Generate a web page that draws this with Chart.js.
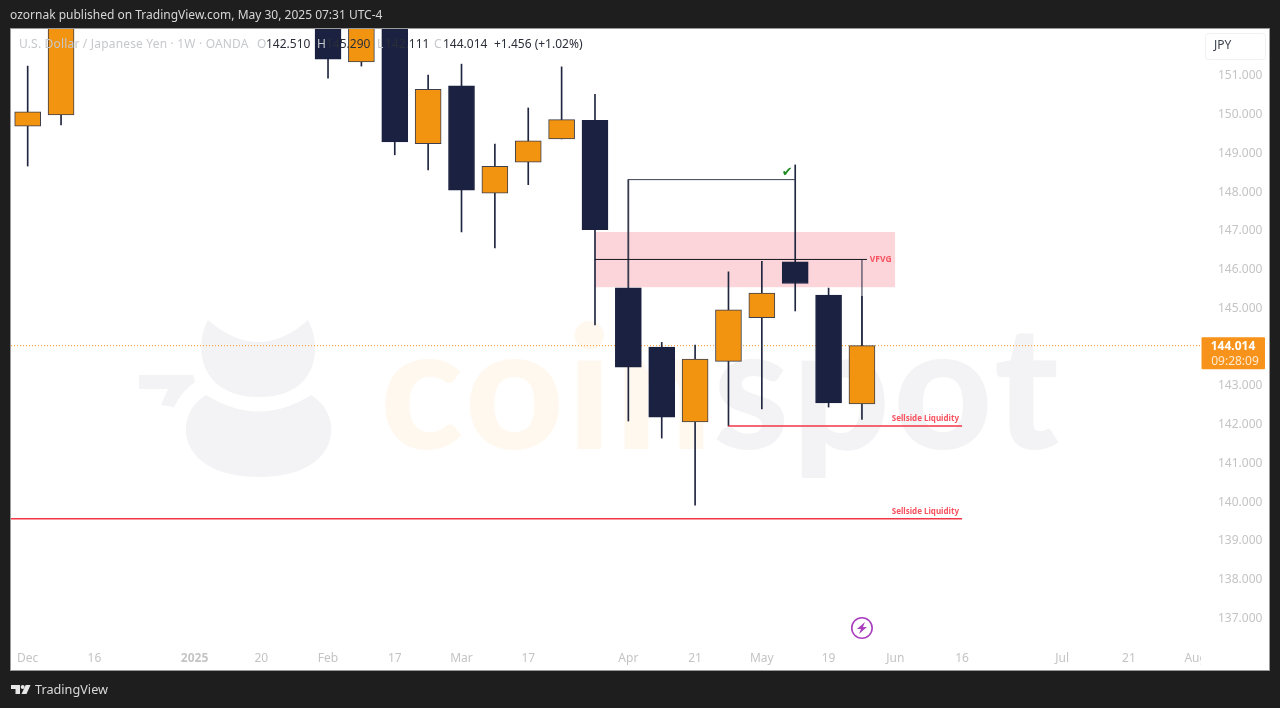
<!DOCTYPE html>
<html>
<head>
<meta charset="utf-8">
<style>html,body{margin:0;padding:0;background:#1e1e1e;overflow:hidden}canvas{display:block}</style>
<script src="https://cdn.jsdelivr.net/npm/chart.js@4"></script>
</head>
<body>
<div style="width:1280px;height:708px"><canvas id="c" width="1280" height="708"></canvas></div>
<script>
// Weekly candles, one entry per week from Dec 2 2024. null = week lies off the top of the picture.
const weeks  = ["Dec 2","Dec 9","Dec 16","Dec 23","Dec 30","Jan 6","Jan 13","Jan 20","Jan 27","Feb 3","Feb 10","Feb 17","Feb 24","Mar 3","Mar 10","Mar 17","Mar 24","Mar 31","Apr 7","Apr 14","Apr 21","Apr 28","May 5","May 12","May 19","May 26"];
const opens  = [149.68,149.97,null,null,null,null,null,null,null,155.00,151.34,152.30,149.23,150.72,147.95,148.75,149.35,149.83,145.51,143.98,142.05,143.61,144.74,146.18,145.32,142.51];
const highs  = [151.23,153.85,null,null,null,null,null,null,null,155.20,154.80,152.40,151.00,151.28,149.22,150.15,151.21,150.50,148.30,144.10,144.03,145.92,146.19,148.68,145.50,145.29];
const lows   = [148.65,149.71,null,null,null,null,null,null,null,150.92,151.23,148.94,148.55,146.95,146.54,148.17,149.35,144.55,142.07,141.63,139.90,141.94,142.38,144.91,142.43,142.111];
const closes = [150.05,153.65,null,null,null,null,null,null,null,151.41,152.30,149.27,150.63,148.03,148.64,149.30,149.85,147.01,143.46,142.17,143.67,144.94,145.37,145.62,142.54,144.014];

const priceTicks = [137,138,139,140,141,142,143,144,145,146,147,148,149,150,151];
const timeTickIdx    = [0,2,5,7,9,11,13,15,18,20,22,24,26,28,31,33,35];
const timeTickLabels = ["Dec","16","2025","20","Feb","17","Mar","17","Apr","21","May","19","Jun","16","Jul","21","Aug"];

const lastPrice = 144.014;
const zoneTop = 146.95, zoneBottom = 145.52, zoneFrom = 17, zoneTo = 26;
const vfvgLevel = 146.24, vfvgFrom = 17, vfvgTo = 25, vfvgEnd = 25.15;
const sweepLevel = 148.30, sweepFrom = 18, sweepTo = 23;
const liqLevelA = 141.94, liqFromA = 21, liqLevelB = 139.55, liqTo = 28;

const yMin = 136.29, yMax = 152.187, xMin = -0.50, xMax = 35.16;
const NAVY = "#1b2140", ORANGE = "#f39410", RED = "#f23645";
const FONT = '"Noto Sans"';

const bodyData = [], wickData = [], bodyColors = [], bodyBorders = [];
weeks.forEach((w,i)=>{
  if(opens[i]===null) return;
  wickData.push({x:i,y:[lows[i],highs[i]]});
  bodyData.push({x:i,y:[opens[i],closes[i]]});
  const up = closes[i]>=opens[i];
  bodyColors.push(up?ORANGE:NAVY);
  bodyBorders.push(up?"#3c3f4d":NAVY);
});
const seg = (pts,color,width,order,extra)=>Object.assign({type:"line",data:pts.map(p=>({x:p[0],y:p[1]})),borderColor:color,borderWidth:width,pointRadius:0,order:order,tension:0,fill:false},extra||{});

const panel = {
  id:"panel",
  beforeDraw(ch){
    const g=ch.ctx; g.save();
    g.fillStyle="#1e1e1e"; g.fillRect(0,0,1280,708);
    g.fillStyle="#ffffff"; g.fillRect(11,29,1258,641);
    g.strokeStyle="#9a9a9a"; g.lineWidth=1; g.strokeRect(10.5,28.5,1259,642);
    // watermark
    g.fillStyle="#f3f3f5";
    g.beginPath();g.moveTo(208,320);g.quadraticCurveTo(259,364,308,320);g.bezierCurveTo(322,345,320,397,259,397);g.bezierCurveTo(198,397,194,345,208,320);g.fill();
    g.beginPath();g.moveTo(206,395);g.quadraticCurveTo(259,428,311,395);g.bezierCurveTo(345,415,342,477,259,477);g.bezierCurveTo(176,477,172,415,206,395);g.fill();
    g.beginPath();g.moveTo(139,375);g.lineTo(193,375);g.lineTo(195,382);g.quadraticCurveTo(181,392,174,407);g.lineTo(161,405);g.lineTo(168,389);g.lineTo(139,389);g.closePath();g.fill();
    g.textBaseline="alphabetic"; g.textAlign="left";
    g.font='900 172px Lato'; g.letterSpacing='3px';
    g.fillStyle="#fff8ef"; g.fillText("coin",380,449);
    g.fillStyle="#f3f3f5"; g.fillText("spot",713,449);
    g.letterSpacing='0px';
    g.restore();
  },
  afterDatasetsDraw(ch){
    const g=ch.ctx, X=ch.scales.x, Y=ch.scales.y; g.save();
    // legend line
    g.textBaseline="middle"; g.textAlign="left"; g.font='12px '+FONT;
    const put=(t,x,c)=>{g.fillStyle=c;g.fillText(t,x,45);};
    const GR="#c6c8cc", DK="#2a2e39";
    g.letterSpacing='0.18px';
    put("U.S. Dollar / Japanese Yen · 1W · OANDA",19,GR);
    g.letterSpacing='0px';
    put("O",257,GR);put("142.510",266,DK);
    put("H",317,GR);put("145.290",326,DK);
    put("L",377,GR);put("142.111",385,DK);
    put("C",434,GR);put("144.014",443,DK);
    put("+1.456 (+1.02%)",494,DK);
    // line-tool labels
    g.textAlign="center"; g.font='bold 8px '+FONT; g.fillStyle="#f7525f";
    g.fillText("Sellside Liquidity",X.getPixelForValue(26.9),Y.getPixelForValue(liqLevelA)-7);
    g.fillText("Sellside Liquidity",X.getPixelForValue(26.9),Y.getPixelForValue(liqLevelB)-7);
    g.font='bold 8.5px '+FONT;
    g.fillText("VFVG",X.getPixelForValue(25.56),Y.getPixelForValue(vfvgLevel));
    // check mark
    g.font='13px "DejaVu Sans"'; g.fillStyle="#1b8a20";
    g.fillText("✔",X.getPixelForValue(22.76),Y.getPixelForValue(sweepLevel)-7);
    // lightning marker
    const lx=X.getPixelForValue(25), ly=628;
    g.strokeStyle="#a93fbf"; g.lineWidth=1.6; g.beginPath(); g.arc(lx,ly,10.2,0,Math.PI*2); g.stroke();
    g.fillStyle="#a93fbf"; g.beginPath();
    g.moveTo(lx+3,ly-6);g.lineTo(lx-5,ly+1);g.lineTo(lx-1,ly+1);g.lineTo(lx-3,ly+6);g.lineTo(lx+5,ly-1);g.lineTo(lx+1,ly-1);g.closePath();g.fill();
    g.restore();
  },
  afterDraw(ch){
    const g=ch.ctx, Y=ch.scales.y; g.save();
    // clip of the last time label at the price axis
    g.fillStyle="#fff"; g.fillRect(1201,648,9,18);
    // JPY button
    g.strokeStyle="#f0f1f3"; g.lineWidth=1; g.beginPath(); g.roundRect(1205.5,33.5,60,26,3); g.stroke();
    g.fillStyle="#3a3f4a"; g.font='12px '+FONT; g.textAlign="left"; g.textBaseline="middle"; g.fillText("JPY",1214,46);
    // last-price tag
    const py=Y.getPixelForValue(lastPrice);
    g.fillStyle="#f7931a"; g.beginPath(); g.roundRect(1201.5,py-8.5,63.5,32,1); g.fill();
    g.textAlign="center"; g.fillStyle="#fff"; g.font='bold 12px '+FONT; g.fillText("144.014",1233,py+1);
    g.fillStyle="#ffe9cf"; g.font='12px '+FONT; g.fillText("09:28:09",1235,py+16);
    // header + footer
    g.textAlign="left"; g.fillStyle="#d6d6d6"; g.font='12px '+FONT; g.fillText("ozornak published on TradingView.com, May 30, 2025 07:31 UTC-4",10,16);
    g.fillStyle="#e6e6e6"; g.beginPath();
    g.moveTo(11,685);g.lineTo(20,685);g.lineTo(20,694);g.lineTo(15.5,694);g.lineTo(15.5,689);g.lineTo(11,689);g.closePath();g.fill();
    g.beginPath();g.arc(22.7,687,2,0,Math.PI*2);g.fill();
    g.beginPath();g.moveTo(25.7,685);g.lineTo(30.5,685);g.lineTo(26.5,694);g.lineTo(21.5,694);g.closePath();g.fill();
    g.font='12.7px '+FONT; g.fillStyle="#d8d8d8"; g.fillText("TradingView",35,690);
    g.restore();
  }
};

new Chart(document.getElementById("c"),{
  type:"bar",
  data:{datasets:[
    seg([[zoneFrom,zoneTop],[zoneTo,zoneTop]],"rgba(0,0,0,0)",0,9,{fill:{value:zoneBottom},backgroundColor:"#fbd5da"}),
    seg([[xMin,lastPrice],[xMax,lastPrice]],"#f7931a",1,8,{borderDash:[1,2]}),
    {label:"wick",data:wickData,barThickness:1,backgroundColor:"#20263f",borderWidth:0,grouped:false,order:4},
    {label:"body",data:bodyData,barThickness:26,backgroundColor:bodyColors,borderColor:bodyBorders,borderWidth:1,borderSkipped:false,grouped:false,order:3},
    seg([[vfvgFrom,vfvgLevel],[vfvgEnd,vfvgLevel]],"#14161f",1,2),
    seg([[vfvgTo,lastPrice],[vfvgTo,vfvgLevel]],"#20263f",1,2),
    seg([[sweepFrom,zoneBottom],[sweepFrom,sweepLevel],[sweepTo,sweepLevel]],"#3c4150",1,2),
    seg([[liqFromA,liqLevelA],[liqTo,liqLevelA]],RED,1.6,1),
    seg([[xMin,liqLevelB],[liqTo,liqLevelB]],RED,1.6,1)
  ]},
  options:{
    responsive:false,animation:false,
    layout:{padding:{left:11,top:29,right:11,bottom:38}},
    plugins:{legend:{display:false},tooltip:{enabled:false},title:{display:false}},
    scales:{
      x:{type:"linear",min:xMin,max:xMax,offset:false,position:"bottom",
        grid:{display:false,offset:false},border:{display:false},
        afterBuildTicks(s){s.ticks=timeTickIdx.map(v=>({value:v}));},
        afterFit(s){s.height=25;},
        ticks:{autoSkip:false,maxRotation:0,padding:-2,color:"#c4c4c4",
          font:(c)=>({family:'"Noto Sans"',size:12,weight:c.tick&&timeTickLabels[timeTickIdx.indexOf(c.tick.value)]==="2025"?"bold":"normal"}),
          callback:(v)=>timeTickLabels[timeTickIdx.indexOf(v)]}
      },
      y:{type:"linear",min:yMin,max:yMax,position:"right",
        grid:{display:false},border:{display:false},
        afterBuildTicks(s){s.ticks=priceTicks.map(v=>({value:v}));},
        afterFit(s){s.width=68;},
        ticks:{autoSkip:false,padding:9,labelOffset:1,color:"#c4c4c4",font:{family:'"Noto Sans"',size:12},callback:(v)=>v.toFixed(3)}
      }
    }
  },
  plugins:[panel]
});
</script>
</body>
</html>
